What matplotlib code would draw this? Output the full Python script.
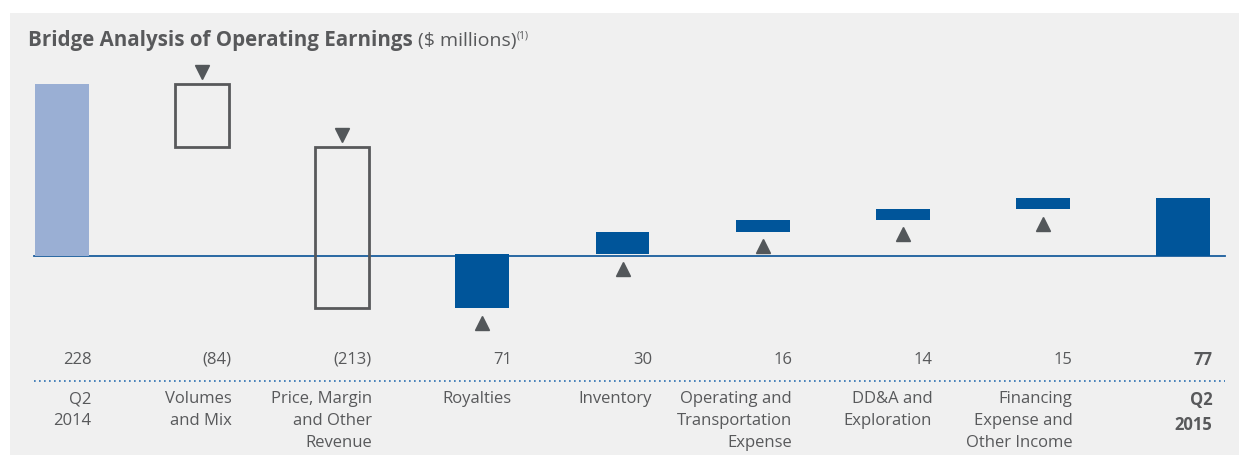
import matplotlib
matplotlib.use("Agg")
import matplotlib.pyplot as plt
import numpy as np
from matplotlib.patches import Rectangle
from matplotlib import transforms

plt.rcParams["font.family"] = ["Open Sans", "DejaVu Sans"]

# data
categories = ["Q2\n2014", "Volumes\nand Mix", "Price, Margin\nand Other\nRevenue", "Royalties",
              "Inventory", "Operating and\nTransportation\nExpense", "DD&A and\nExploration",
              "Financing\nExpense and\nOther Income", "Q2\n2015"]
values = [228, -84, -213, 71, 30, 16, 14, 15, 77]
value_labels = ["228", "(84)", "(213)", "71", "30", "16", "14", "15", "77"]

text_gray = "#58595b"
dark_blue = "#00559a"
light_blue = "#9aafd4"
outline_gray = "#58595b"

fig = plt.figure(figsize=(12.39, 4.59), dpi=100)
fig.patch.set_facecolor("white")
fig.patches.append(Rectangle((10 / 1239, 4 / 459), 1229 / 1239, 442 / 459,
                             transform=fig.transFigure, facecolor="#f0f0f0",
                             edgecolor="none", zorder=-5))

ax = fig.add_axes([0, 0, 1, 1])
ax.set_facecolor("none")
px_x = 140.125
px_y = 0.754
ax.set_xlim(-62 / px_x, (1239 - 62) / px_x)
ax.set_ylim(-203 / px_y, (459 - 203) / px_y)
ax.axis("off")

x = np.arange(len(values))
w = 0.385
running = 0
for i, v in enumerate(values):
    if i == 0:
        ax.bar(x[i], v, width=w, color=light_blue, zorder=2)
        running = v
        continue
    if i == len(values) - 1:
        ax.bar(x[i], running, width=w, color=dark_blue, zorder=2)
        continue
    start = running
    end = running + v
    bottom, top = min(start, end), max(start, end)
    if v < 0:
        ax.bar(x[i], top - bottom, bottom=bottom, width=w, facecolor="none",
               edgecolor=outline_gray, linewidth=2, zorder=2)
        tr = transforms.offset_copy(ax.transData, fig=fig, x=0, y=9, units="points")
        ax.plot(x[i], top, marker="v", markersize=10, color="#53575a",
                transform=tr, zorder=3, clip_on=False)
    else:
        ax.bar(x[i], top - bottom, bottom=bottom, width=w, color=dark_blue, zorder=2)
        tr = transforms.offset_copy(ax.transData, fig=fig, x=0, y=-10.5, units="points")
        ax.plot(x[i], bottom, marker="^", markersize=10, color="#53575a",
                transform=tr, zorder=3, clip_on=False)
    running = end

# baseline
ax.plot([-0.2, 8.3], [0, 0], color="#1a5d9c", linewidth=1.3, zorder=1)

# value row, dotted separator and category labels
blend = transforms.blended_transform_factory(ax.transData, fig.transFigure)
for i, (lab, cat) in enumerate(zip(value_labels, categories)):
    bold = i == len(values) - 1
    ax.text(x[i] + 0.21, 1 - 360 / 459, lab, transform=blend, ha="right", va="center",
            fontsize=12, color=text_gray, fontweight="bold" if bold else "normal")
    ax.text(x[i] + 0.21, 1 - 391 / 459, cat, transform=blend, ha="right", va="top",
            fontsize=12, color=text_gray, linespacing=1.5,
            fontweight="bold" if bold else "normal")
ax.plot([-0.2, 8.3], [1 - 381 / 459] * 2, transform=blend, color="#2a6fb0",
        linestyle=(0, (1, 2)), linewidth=1.2)

# title
t1 = fig.text(28 / 1239, 1 - 46 / 459, "Bridge Analysis of Operating Earnings",
              fontsize=14.8, fontweight="bold", color=text_gray, va="baseline")
fig.canvas.draw()
bb = t1.get_window_extent()
t2 = fig.text(bb.x1 / 1239 + 0.004, 1 - 46 / 459, "($ millions)", fontsize=14,
              color=text_gray, va="baseline")
fig.canvas.draw()
bb2 = t2.get_window_extent()
fig.text(bb2.x1 / 1239, 1 - 38 / 459, "(1)", fontsize=7.5, color=text_gray, va="baseline")

fig.savefig("out.png", dpi=100, facecolor=fig.get_facecolor())
